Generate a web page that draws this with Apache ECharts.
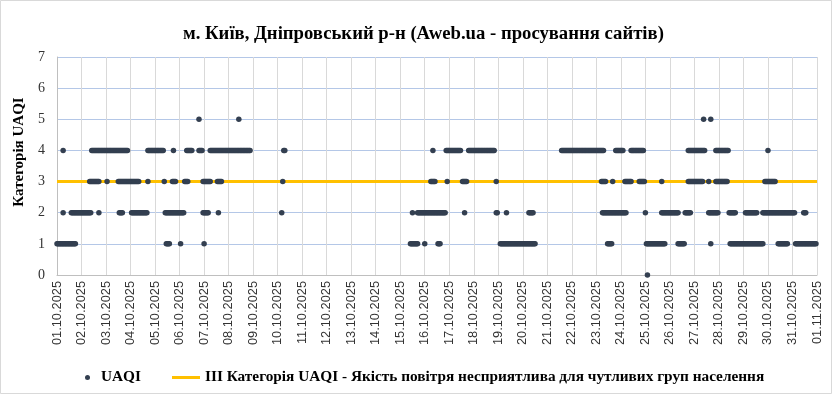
<!DOCTYPE html>
<html>
<head>
<meta charset="utf-8">
<script src="https://cdn.jsdelivr.net/npm/echarts@6/dist/echarts.min.js"></script>
<style>
html,body{margin:0;padding:0;background:#fff;}
#chart{width:832px;height:394px;}
</style>
</head>
<body>
<div id="chart"></div>
<script>
// Date tick labels (one per day, x value = hours since 01.10.2025 00:00)
const dateLabels = ["01.10.2025","02.10.2025","03.10.2025","04.10.2025","05.10.2025","06.10.2025","07.10.2025","08.10.2025","09.10.2025","10.10.2025","11.10.2025","12.10.2025","13.10.2025","14.10.2025","15.10.2025","16.10.2025","17.10.2025","18.10.2025","19.10.2025","20.10.2025","21.10.2025","22.10.2025","23.10.2025","24.10.2025","25.10.2025","26.10.2025","27.10.2025","28.10.2025","29.10.2025","30.10.2025","31.10.2025","01.11.2025"];

// Hours (since 01.10.2025 00:00) at which a UAQI reading of each category is plotted
const uaqi0Hours = [578];
const uaqi1Hours = [0,1,2,3,4,5,6,7,8,9,10,11,12,13,14,15,16,17,18,
107,108,109,110,121,144,
346,347,348,349,350,351,352,353,360,373,374,375,
434,435,436,437,438,439,440,441,442,443,444,445,446,447,448,449,450,451,452,453,454,455,456,457,458,459,460,461,462,463,464,465,466,467,468,
539,540,541,542,543,
577,578,579,580,581,582,583,584,585,586,587,588,589,590,591,592,593,594,595,
608,609,610,611,612,613,614,640,
659,660,661,662,663,664,665,666,667,668,669,670,671,672,673,674,675,676,677,678,679,680,681,682,683,684,685,686,687,688,689,690,691,
706,707,708,709,710,711,712,713,714,715,
723,724,725,726,727,728,729,730,731,732,733,734,735,736,737,738,739,740,741,742,743];
const uaqi2Hours = [6,14,15,16,17,18,19,20,21,22,23,24,25,26,27,28,29,30,31,32,33,41,
61,62,63,64,73,74,75,76,77,78,79,80,81,82,83,84,85,86,87,88,
106,107,108,109,110,111,112,113,114,115,116,117,118,119,120,121,122,123,124,
143,144,145,146,147,148,158,220,348,
353,354,355,356,357,358,359,360,361,362,363,364,365,366,367,368,369,370,371,372,373,374,375,376,377,378,379,380,
399,430,431,440,462,463,464,465,466,
534,535,536,537,538,539,540,541,542,543,544,545,546,547,548,549,550,551,552,553,554,555,556,557,
576,592,593,594,595,596,597,598,599,600,601,602,603,604,605,606,607,608,
615,616,617,618,619,620,638,639,640,641,642,643,644,645,646,647,
658,659,660,661,662,663,664,674,675,676,677,678,679,680,681,682,683,684,685,
691,692,693,694,695,696,697,698,699,700,701,702,703,704,705,706,707,708,709,710,711,712,713,714,715,716,717,718,719,720,721,722,
731,732,733];
const uaqi3Hours = [32,33,34,35,36,37,38,39,40,41,49,
60,61,62,63,64,65,66,67,68,69,70,71,72,73,74,75,76,77,78,79,80,
89,105,113,114,115,116,125,126,127,128,
143,144,145,146,147,148,149,150,157,158,159,160,161,221,
366,367,368,369,370,382,397,398,399,400,401,430,
533,534,535,536,537,544,556,557,558,559,560,561,562,570,571,572,573,574,575,592,
618,619,620,621,622,623,624,625,626,627,628,629,630,631,632,638,
645,646,647,648,649,650,651,652,653,654,655,656,
693,694,695,696,697,698,699,700,701,702,703];
const uaqi4Hours = [6,34,35,36,37,38,39,40,41,42,43,44,45,46,47,48,49,50,51,52,53,54,55,56,57,58,59,60,61,62,63,64,65,66,67,68,69,
89,90,91,92,93,94,95,96,97,98,99,100,101,102,103,104,
114,127,128,129,130,131,132,139,140,141,142,
150,151,152,153,154,155,156,157,158,159,160,161,162,163,164,165,166,167,168,169,170,171,172,173,174,175,176,177,178,179,180,181,182,183,184,185,186,187,188,189,
222,223,368,
381,382,383,384,385,386,387,388,389,390,391,392,393,394,395,
403,404,405,406,407,408,409,410,411,412,413,414,415,416,417,418,419,420,421,422,423,424,425,426,427,428,
494,495,496,497,498,499,500,501,502,503,504,505,506,507,508,509,510,511,512,513,514,515,516,517,518,519,520,521,522,523,524,525,526,527,528,529,530,531,532,533,534,535,
547,548,549,550,551,552,553,554,
562,563,564,565,566,567,568,569,570,571,572,573,574,
618,619,620,621,622,623,624,625,626,627,628,629,630,631,632,633,634,
645,646,647,648,649,650,651,652,653,654,655,656,657,
696];
const uaqi5Hours = [139,178,633,640];

// Threshold: III category
const thresholdLevel = 3;
const thresholdRange = [0, 744];

const seriesName = "UAQI";
const thresholdName = "III Категорія UAQI - Якість повітря несприятлива для чутливих груп населення";

const levelHours = [uaqi0Hours, uaqi1Hours, uaqi2Hours, uaqi3Hours, uaqi4Hours, uaqi5Hours];
const scatterData = [];
levelHours.forEach((hours, level) => hours.forEach(h => scatterData.push([h, level])));

const legendFont = {fontFamily: 'Liberation Serif', fontWeight: 'bold', fontSize: 15.3, color: '#000'};

const chart = echarts.init(document.getElementById('chart'), null, {renderer: 'canvas'});
chart.setOption({
  animation: false,
  backgroundColor: '#ffffff',
  title: {
    text: 'м. Київ, Дніпровський р-н (Aweb.ua - просування сайтів)',
    left: 178,
    top: 20,
    textStyle: {fontFamily: 'Liberation Serif', fontWeight: 'bold', fontSize: 18.7, color: '#000'}
  },
  graphic: [{
    type: 'rect', shape: {x: 0.5, y: 0.5, width: 831, height: 393},
    style: {fill: 'none', stroke: '#d9d9d9', lineWidth: 1}, silent: true, z: -10
  }],
  legend: [{
    data: [{name: seriesName, icon: 'circle'}],
    left: 80, top: 365,
    itemWidth: 17, itemHeight: 5,
    textStyle: legendFont
  }, {
    data: [{name: thresholdName, icon: 'rect'}],
    left: 167, top: 365,
    itemWidth: 28, itemHeight: 3,
    textStyle: legendFont
  }],
  grid: {left: 57, right: 15, top: 57, bottom: 119, containLabel: false, outerBoundsMode: 'none'},
  xAxis: {
    type: 'value', min: 0, max: 744, interval: 24,
    axisLine: {show: true, lineStyle: {color: '#bfbfbf', width: 1}},
    axisTick: {show: false},
    splitLine: {show: true, lineStyle: {color: '#d9d9d9', width: 1}},
    axisLabel: {
      rotate: 90, margin: 6, fontFamily: 'Liberation Sans', fontSize: 12.8, color: '#333',
      formatter: v => dateLabels[Math.round(v / 24)],
      showMinLabel: true, showMaxLabel: true
    }
  },
  yAxis: {
    type: 'value', min: 0, max: 7, interval: 1,
    name: 'Категорія UAQI', nameLocation: 'middle', nameGap: 24, nameRotate: 90,
    nameTextStyle: {fontFamily: 'Liberation Serif', fontWeight: 'bold', fontSize: 15, color: '#000', padding: [0, 0, 0, 28]},
    axisLine: {show: true, lineStyle: {color: '#bfbfbf', width: 1}},
    axisTick: {show: false},
    splitLine: {show: true, lineStyle: {color: '#b4c7e7', width: 1}},
    axisLabel: {margin: 12, fontFamily: 'Liberation Serif', fontSize: 14, color: '#333'}
  },
  series: [{
    name: thresholdName,
    type: 'line',
    data: [[thresholdRange[0], thresholdLevel], [thresholdRange[1], thresholdLevel]],
    symbol: 'none',
    lineStyle: {color: '#ffc000', width: 3},
    itemStyle: {color: '#ffc000'},
    z: 2
  }, {
    name: seriesName,
    type: 'scatter',
    data: scatterData,
    symbol: 'circle',
    symbolSize: 5.5,
    itemStyle: {color: '#333f50', opacity: 1},
    z: 3
  }]
});
</script>
</body>
</html>
